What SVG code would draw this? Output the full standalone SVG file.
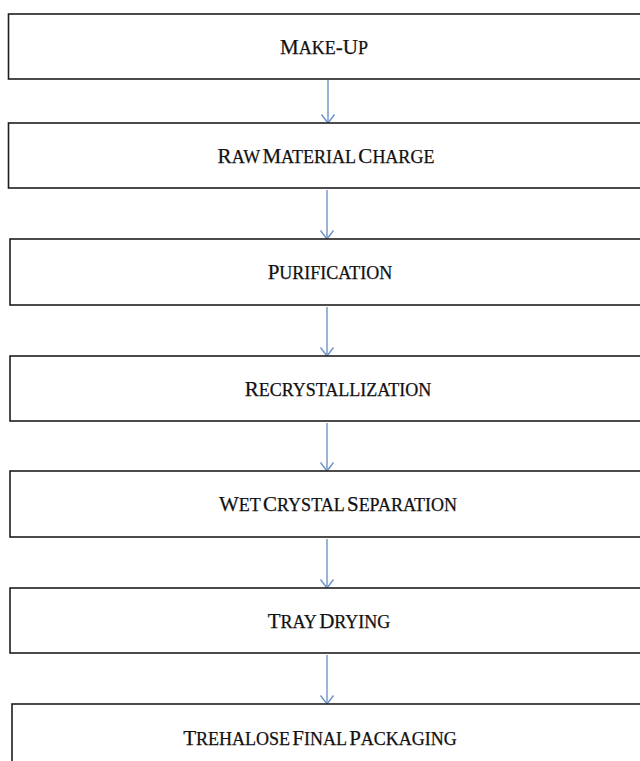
<svg xmlns="http://www.w3.org/2000/svg" width="640" height="761" viewBox="0 0 640 761">
<style>
.box{fill:#fff;stroke:#1e1e1e;stroke-width:1.6}
.t{font-family:"Liberation Serif",serif;font-size:21px;fill:#111;stroke:#111;stroke-width:0.25;text-anchor:middle;word-spacing:-3px}
.s{font-size:18px}
.c{stroke:#6f93c8;stroke-width:1.4;fill:none}
</style>
<defs>
<marker id="ah" markerWidth="16" markerHeight="16" refX="10" refY="8" markerUnits="userSpaceOnUse" orient="auto" viewBox="0 0 16 16">
<path d="M1.5,1.5 L10,8 L1.5,14.5" fill="none" stroke="#6f93c8" stroke-width="1.4"/>
</marker>
</defs>
<rect width="640" height="761" fill="#fff"/>
<g id="connectors">
<line class="c" x1="328" y1="80" x2="328" y2="123" marker-end="url(#ah)"/>
<line class="c" x1="327" y1="190" x2="327" y2="239" marker-end="url(#ah)"/>
<line class="c" x1="327" y1="307" x2="327" y2="356" marker-end="url(#ah)"/>
<line class="c" x1="327" y1="423" x2="327" y2="471" marker-end="url(#ah)"/>
<line class="c" x1="327" y1="539" x2="327" y2="588" marker-end="url(#ah)"/>
<line class="c" x1="327" y1="655" x2="327" y2="704" marker-end="url(#ah)"/>
</g>
<g id="n1"><rect class="box" x="8.5" y="14" width="640" height="65"/>
<text class="t" x="324" y="54">M<tspan class="s">AKE</tspan>-U<tspan class="s">P</tspan></text></g>
<g id="n2"><rect class="box" x="8.5" y="123" width="640" height="65"/>
<text class="t" x="326" y="163">R<tspan class="s">AW</tspan> M<tspan class="s">ATERIAL</tspan> C<tspan class="s">HARGE</tspan></text></g>
<g id="n3"><rect class="box" x="10" y="239" width="640" height="66"/>
<text class="t" x="330" y="279">P<tspan class="s">URIFICATION</tspan></text></g>
<g id="n4"><rect class="box" x="10" y="356" width="640" height="65"/>
<text class="t" x="338" y="396">R<tspan class="s">ECRYSTALLIZATION</tspan></text></g>
<g id="n5"><rect class="box" x="10" y="471" width="640" height="66"/>
<text class="t" x="338" y="511">W<tspan class="s">ET</tspan> C<tspan class="s">RYSTAL</tspan> S<tspan class="s">EPARATION</tspan></text></g>
<g id="n6"><rect class="box" x="10" y="588" width="640" height="65"/>
<text class="t" x="329" y="628">T<tspan class="s">RAY</tspan> D<tspan class="s">RYING</tspan></text></g>
<g id="n7"><rect class="box" x="12" y="704" width="640" height="80"/>
<text class="t" x="320" y="745">T<tspan class="s">REHALOSE</tspan> F<tspan class="s">INAL</tspan> P<tspan class="s">ACKAGING</tspan></text></g>
</svg>
